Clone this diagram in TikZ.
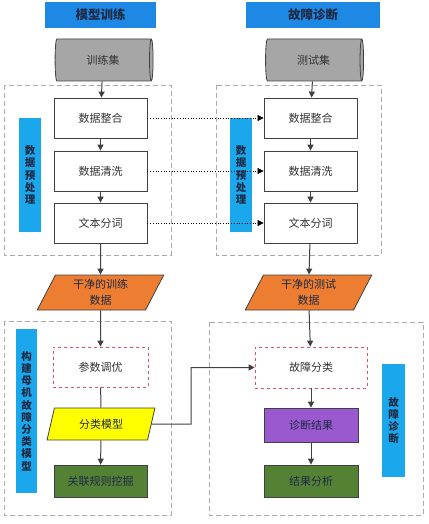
\documentclass[tikz,border=0pt]{standalone}
\usepackage{fontspec}
\setmainfont{Noto Sans CJK SC}
\usetikzlibrary{shapes.geometric,arrows.meta,positioning}

\definecolor{bannerblue}{HTML}{1E88E5}
\definecolor{barblue}{HTML}{1AA7EC}
\definecolor{navytext}{HTML}{1F2A44}
\definecolor{txtgray}{HTML}{333333}
\definecolor{linegray}{HTML}{404040}
\definecolor{dashgray}{HTML}{AAAAAA}
\definecolor{cylgray}{HTML}{A6A6A6}
\definecolor{cleanorange}{HTML}{ED7D31}
\definecolor{modelyellow}{HTML}{FFFF00}
\definecolor{diagpurple}{HTML}{9B59D0}
\definecolor{resgreen}{HTML}{548235}
\definecolor{tunered}{HTML}{E0506A}

\begin{document}
\begin{tikzpicture}[x=1pt,y=-1pt,
    font=\fontsize{11}{12}\selectfont, text=txtgray,
    line/.style={draw=linegray, line width=1pt},
    arr/.style={line, -{Triangle[length=6pt,width=6pt]}},
    dotarr/.style={draw=black, line width=0.7pt, dotted, -{Triangle[length=6pt,width=6pt]}},
    banner/.style={fill=bannerblue, text=navytext, font=\fontsize{12.5}{13}\selectfont\bfseries, minimum height=26pt, inner sep=0pt},
    vbar/.style={fill=barblue, text=navytext, align=center, inner sep=0pt, font=\fontsize{10.5}{12.2}\selectfont\bfseries},
    db/.style={cylinder, shape border rotate=0, aspect=0.35, draw=linegray, line width=0.8pt, fill=cylgray, minimum width=42pt, minimum height=98pt, inner sep=0pt},
    stepbox/.style={draw=linegray, line width=0.8pt, fill=white, minimum width=93pt, minimum height=40pt, inner sep=0pt},
    tunebox/.style={draw=tunered, line width=0.8pt, dashed, fill=white, minimum height=40pt, inner sep=0pt},
    databox/.style={trapezium, trapezium left angle=67, trapezium right angle=113, trapezium stretches=true, draw=linegray, line width=0.8pt, fill=cleanorange, text=navytext, align=center, minimum width=127pt, minimum height=35pt, inner sep=0pt, font=\fontsize{11}{16}\selectfont},
    region/.style={draw=dashgray, line width=0.8pt, dash pattern=on 5pt off 3pt}
  ]
  \useasboundingbox (0,0) rectangle (428,524);

  % dashed regions
  \draw[region] (4,85) rectangle (171,255);
  \draw[region] (216,85) rectangle (381,255);
  \draw[region] (4,321) rectangle (171,515);
  \draw[region] (209,322) rectangle (423,515);

  % headers and data sets
  \node[banner, minimum width=111pt] (trainhead) at (100.5,15) {模型训练};
  \node[banner, minimum width=134pt] (diaghead) at (313,15) {故障诊断};
  \node[db] (trainset) at (103,60) {训练集};
  \node[db] (testset) at (313.5,60) {测试集};

  % side bars
  \node[vbar, minimum width=22pt, minimum height=114pt] (prepL) at (30,175) {数\\据\\预\\处\\理};
  \node[vbar, minimum width=22pt, minimum height=114pt] (prepR) at (241,175) {数\\据\\预\\处\\理};
  \node[vbar, minimum width=21pt, minimum height=164pt] (buildbar) at (26.5,411) {构\\建\\母\\机\\故\\障\\分\\类\\模\\型};
  \node[vbar, minimum width=23pt, minimum height=113pt] (diagbar) at (393.5,420.5) {故\\障\\诊\\断};

  % preprocessing, both sides
  \foreach \side/\x in {L/100.5, R/310.5} {
    \node[stepbox] (merge\side) at (\x,118) {数据整合};
    \node[stepbox] (clean\side) at (\x,171) {数据清洗};
    \node[stepbox] (split\side) at (\x,223) {文本分词};
    \draw[arr] (merge\side) -- (clean\side);
    \draw[arr] (clean\side) -- (split\side);
  }
  \draw[arr] (trainset) -- (mergeL);
  \draw[arr] (testset) -- (mergeR);
  \foreach \n in {merge, clean, split}
    \draw[dotarr] (\n L) -- (\n R);

  \node[databox] (traindata) at (100.5,292.5) {干净的训练\\数据};
  \node[databox] (testdata) at (308.5,292.5) {干净的测试\\数据};
  \draw[arr] (splitL) -- (traindata);
  \draw[arr] (splitR) -- (testdata);

  % model building
  \node[tunebox, minimum width=95pt] (tune) at (100.5,367) {参数调优};
  \node[databox, fill=modelyellow, trapezium left angle=71, trapezium right angle=109, minimum width=108pt, minimum height=32pt] (model) at (101,424) {分类模型};
  \node[stepbox, fill=resgreen, text=navytext, minimum height=32pt] (rules) at (100.5,481) {关联规则挖掘};
  \draw[arr] (traindata) -- (tune);
  \draw[line] (tune) -- (model);
  \draw[arr] (model) -- (rules);

  % diagnosis
  \node[tunebox, minimum width=112pt, minimum height=41pt] (classify) at (311,367.5) {故障分类};
  \node[stepbox, fill=diagpurple, text=navytext, minimum width=94pt, minimum height=34pt] (result) at (311,425) {诊断结果};
  \node[stepbox, fill=resgreen, text=navytext, minimum width=94pt, minimum height=32pt] (analysis) at (311,481) {结果分析};
  \coordinate (bend) at (191,424);
  \draw[arr] (testdata) -- (classify);
  \draw[arr] (model.east) -- (bend) |- (classify.west);
  \draw[arr] (classify) -- (result);
  \draw[arr] (result) -- (analysis);
\end{tikzpicture}
\end{document}
